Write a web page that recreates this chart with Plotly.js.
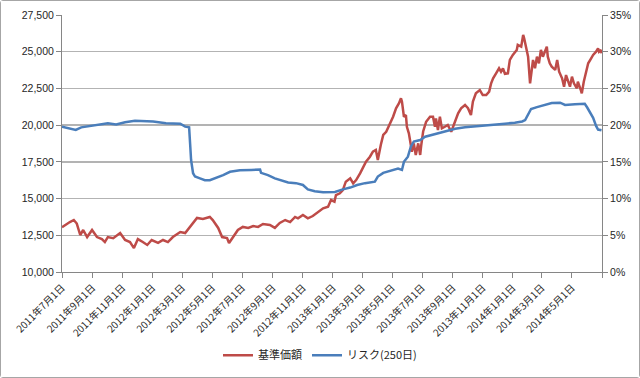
<!DOCTYPE html>
<html>
<head>
<meta charset="utf-8">
<script src="https://cdn.plot.ly/plotly-3.0.1.min.js"></script>
<style>
html,body{margin:0;padding:0;background:#fff;}
#wrap{width:638px;height:376px;border:1px solid #a6a6a6;border-radius:3px;}
#chart{width:638px;height:376px;}
</style>
</head>
<body>
<div id="wrap"><div id="chart"></div></div>
<script>
// 基準価額 (left axis)
const navDates = ["2011-07-01","2011-07-09","2011-07-17","2011-07-25","2011-07-31","2011-08-07","2011-08-13","2011-08-21","2011-08-31","2011-09-10","2011-09-20","2011-09-26","2011-10-02","2011-10-13","2011-10-27","2011-11-06","2011-11-16","2011-11-24","2011-12-02","2011-12-12","2011-12-21","2011-12-30",
"2012-01-12","2012-01-22","2012-02-01","2012-02-11","2012-02-26","2012-03-07","2012-03-17","2012-03-31","2012-04-12","2012-04-26","2012-05-02","2012-05-13","2012-05-21","2012-05-31","2012-06-04","2012-06-12","2012-06-22","2012-07-02","2012-07-13","2012-07-23","2012-08-02","2012-08-12","2012-08-26","2012-09-05","2012-09-15","2012-09-26","2012-10-06","2012-10-16","2012-10-22","2012-11-01","2012-11-11","2012-11-21","2012-12-02","2012-12-12","2012-12-22","2012-12-28",
"2013-01-04","2013-01-07","2013-01-15","2013-01-21","2013-01-27","2013-02-05","2013-02-11","2013-02-17","2013-02-25","2013-03-03","2013-03-09","2013-03-17","2013-03-23","2013-03-29","2013-04-02","2013-04-08","2013-04-13","2013-04-19","2013-04-27","2013-05-03","2013-05-09","2013-05-15","2013-05-19","2013-05-21","2013-05-25","2013-05-29","2013-05-31","2013-06-04","2013-06-08","2013-06-10","2013-06-14","2013-06-18","2013-06-23","2013-06-27","2013-06-29","2013-07-03","2013-07-09","2013-07-17","2013-07-23","2013-07-27","2013-07-29","2013-08-02","2013-08-06","2013-08-10","2013-08-16","2013-08-22","2013-08-29","2013-09-06","2013-09-12","2013-09-18","2013-09-26","2013-10-02","2013-10-08","2013-10-12","2013-10-18","2013-10-26","2013-11-01","2013-11-08","2013-11-14","2013-11-18","2013-11-22","2013-11-28","2013-12-04","2013-12-08","2013-12-12","2013-12-16","2013-12-22","2013-12-26",
"2014-01-01","2014-01-09","2014-01-11","2014-01-18","2014-01-22","2014-01-24","2014-01-28","2014-02-01","2014-02-05","2014-02-09","2014-02-11","2014-02-15","2014-02-19","2014-02-23","2014-02-27","2014-03-03","2014-03-07","2014-03-11","2014-03-13","2014-03-17","2014-03-21","2014-03-28","2014-04-01","2014-04-05","2014-04-11","2014-04-15","2014-04-19","2014-04-23","2014-04-27","2014-05-01","2014-05-05","2014-05-11","2014-05-13","2014-05-19","2014-05-21","2014-05-25","2014-05-29","2014-06-03","2014-06-09","2014-06-13","2014-06-19","2014-06-23","2014-06-25","2014-06-29","2014-06-30"];
const navValues = [13050,13250,13400,13540,13300,12520,12860,12380,12860,12380,12240,12040,12380,12300,12650,12180,12040,11630,12240,12040,11840,12180,
11980,12180,12040,12380,12720,12650,13070,13680,13610,13750,13540,13000,12380,12310,11970,12380,12860,13070,13000,13130,13070,13270,13200,13000,13340,13540,13400,13750,13650,13880,13650,13810,14110,14340,14450,14900,
14790,15240,15360,15580,16150,16380,16040,16260,16720,17170,17510,17850,18190,18310,17630,18650,19330,19550,20120,20570,21150,21490,21830,21600,20570,20690,19890,19440,18650,18190,18760,17970,18760,17970,18600,19570,20230,20570,20570,19890,20460,19670,20570,19780,19890,20010,19550,20350,20810,21150,21370,21150,20690,21600,22170,22390,22050,22050,22280,22850,23190,23530,23870,23640,23870,23500,23530,24440,
24780,25120,25460,25340,26140,25910,25230,24660,22850,24210,24440,23870,24660,24210,25120,24660,25000,25340,24660,24210,23980,23760,24440,23640,23190,22620,23410,23070,22620,23300,22850,22510,22960,22390,22170,22960,23530,24210,24550,24780,25000,25230,25000,25120,24890];

// リスク(250日) (right axis, %)
const riskDates = ["2011-07-01","2011-07-19","2011-07-29","2011-08-09","2011-08-29","2011-09-18","2011-10-02","2011-10-19","2011-11-06","2011-11-26","2011-12-16",
"2012-01-02","2012-01-28","2012-02-26","2012-03-07","2012-03-15","2012-03-17","2012-03-19","2012-03-23","2012-03-27","2012-04-06","2012-04-16","2012-04-26","2012-05-07","2012-05-23","2012-06-06","2012-06-26","2012-07-19","2012-08-06","2012-08-08","2012-08-22","2012-09-05","2012-09-17","2012-10-02","2012-10-18","2012-11-01","2012-11-11","2012-11-25","2012-12-12","2012-12-22",
"2013-01-05","2013-01-21","2013-02-05","2013-02-19","2013-03-07","2013-03-27","2013-04-02","2013-04-13","2013-04-27","2013-05-13","2013-05-21","2013-05-25","2013-06-02","2013-06-08","2013-06-14","2013-06-27","2013-07-07","2013-07-21","2013-08-06","2013-08-20","2013-09-06","2013-09-26","2013-10-16","2013-11-16","2013-12-16",
"2014-01-05","2014-01-20","2014-01-26","2014-02-01","2014-02-07","2014-02-19","2014-03-07","2014-03-21","2014-04-07","2014-04-17","2014-05-07","2014-05-27","2014-06-01","2014-06-07","2014-06-13","2014-06-19","2014-06-23","2014-06-30"];
const riskValues = [19.8,19.57,19.34,19.7,19.9,20.07,20.25,20.1,20.4,20.6,20.6,
20.5,20.25,20.2,19.8,19.7,17.5,15.25,13.45,13.0,12.75,12.5,12.5,12.75,13.2,13.65,13.85,13.9,13.95,13.5,13.2,12.75,12.5,12.2,12.1,11.85,11.25,11.0,10.85,10.85,
10.9,11.25,11.5,11.85,12.1,12.3,13.0,13.5,13.8,14.1,13.9,15.0,15.7,17.07,17.75,17.98,18.43,18.66,18.9,19.2,19.5,19.7,19.8,20.0,20.2,
20.33,20.5,20.7,21.4,22.2,22.45,22.7,23.0,23.06,22.75,22.85,22.9,22.4,21.6,21.0,19.9,19.4,19.3];

const seriesNames = ["基準価額","リスク(250日)"];
const xTickVals = ["2011-07-01","2011-09-01","2011-11-01","2012-01-01","2012-03-01","2012-05-01","2012-07-01","2012-09-01","2012-11-01","2013-01-01","2013-03-01","2013-05-01","2013-07-01","2013-09-01","2013-11-01","2014-01-01","2014-03-01","2014-05-01","2014-07-01"];
const xTickText = ["2011年7月1日","2011年9月1日","2011年11月1日","2012年1月1日","2012年3月1日","2012年5月1日","2012年7月1日","2012年9月1日","2012年11月1日","2013年1月1日","2013年3月1日","2013年5月1日","2013年7月1日","2013年9月1日","2013年11月1日","2014年1月1日","2014年3月1日","2014年5月1日",""];

const FONT = "Liberation Sans, Arial, Noto Sans CJK JP, sans-serif";

const traces = [
  {x: navDates, y: navValues, name: seriesNames[0], type: "scatter", mode: "lines",
   line: {color: "#BE4B48", width: 2.5}, yaxis: "y"},
  {x: riskDates, y: riskValues, name: seriesNames[1], type: "scatter", mode: "lines",
   line: {color: "#4A7EBB", width: 2.5}, yaxis: "y2"}
];

const layout = {
  width: 638, height: 376,
  margin: {l: 61, r: 37, t: 14, b: 105},
  paper_bgcolor: "#fff", plot_bgcolor: "#fff",
  font: {family: FONT, size: 10, color: "#262626"},
  showlegend: true,
  legend: {orientation: "h", x: 0.5, xanchor: "center", xref: "container",
           y: 0.058, yanchor: "middle", yref: "container",
           font: {family: "Noto Sans CJK JP, sans-serif", size: 11, color: "#262626"},
           itemwidth: 30, tracegroupgap: 0},
  xaxis: {
    type: "date", range: ["2011-07-01", "2014-07-01"], automargin: false,
    tickmode: "array", tickvals: xTickVals, ticktext: xTickText,
    tickangle: -45, ticks: "outside", ticklen: 5, tickcolor: "#868686",
    showline: true, linecolor: "#868686", linewidth: 1,
    showgrid: false, zeroline: false,
    tickfont: {family: "Noto Sans CJK JP, sans-serif", size: 10, color: "#262626"}
  },
  yaxis: {
    range: [10000, 27500], dtick: 2500, tick0: 10000, tickformat: ",", automargin: false,
    ticks: "outside", ticklen: 5, tickcolor: "#868686",
    showline: true, linecolor: "#868686", linewidth: 1,
    showgrid: true, gridcolor: "#b3b3b3", gridwidth: 1.5, zeroline: false,
    tickfont: {family: FONT, size: 10.5, color: "#262626"}
  },
  yaxis2: {
    range: [0, 35], dtick: 5, tick0: 0, ticksuffix: "%", automargin: false,
    overlaying: "y", side: "right",
    ticks: "outside", ticklen: 5, tickcolor: "#868686",
    showline: true, linecolor: "#868686", linewidth: 1,
    showgrid: false, zeroline: false,
    tickfont: {family: FONT, size: 10.5, color: "#262626"}
  }
};

Plotly.newPlot("chart", traces, layout, {staticPlot: true, displayModeBar: false});
</script>
</body>
</html>
